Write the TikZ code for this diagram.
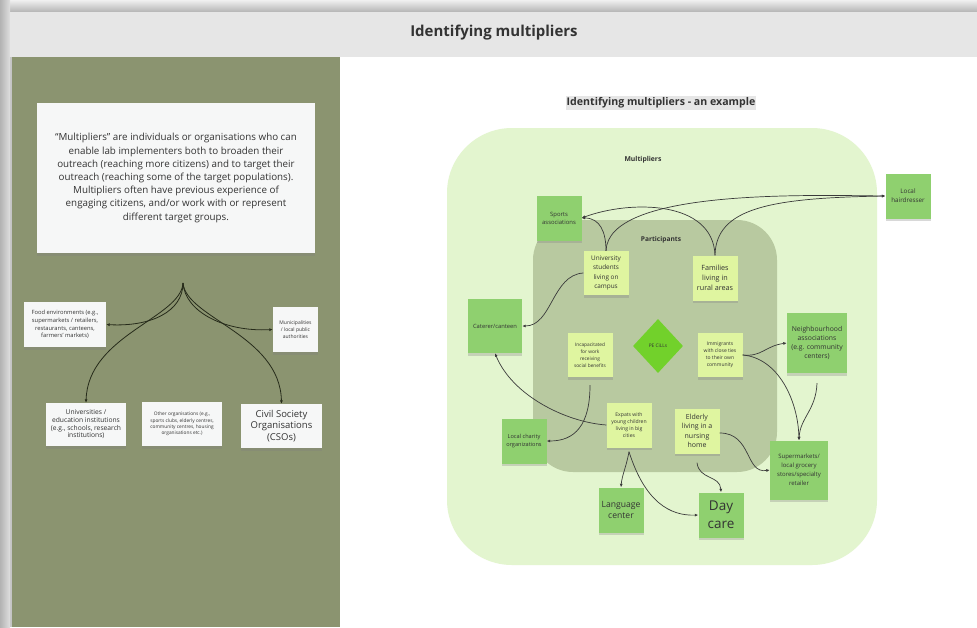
\documentclass[tikz,border=0pt]{standalone}
\usepackage{fontspec}
\setmainfont{Open Sans}
\usetikzlibrary{arrows.meta,shapes.geometric,shadows}
\definecolor{framegray}{HTML}{C4C4C4}
\definecolor{titlegray}{HTML}{E6E6E6}
\definecolor{paneloliv}{HTML}{8B9470}
\definecolor{multbg}{HTML}{E3F5CF}
\definecolor{partbg}{HTML}{B8C9A0}
\definecolor{multnote}{HTML}{8FD06F}
\definecolor{partnote}{HTML}{DFF5A0}
\definecolor{diamgreen}{HTML}{72D12B}
\definecolor{txtgray}{HTML}{333333}
\definecolor{linegray}{HTML}{3A3A3A}
\definecolor{leftline}{HTML}{262B1A}
\definecolor{paperwhite}{HTML}{F6F7F7}
\newcommand\myfs[2]{\fontsize{#1}{#2}\selectfont}
\tikzset{
  shad/.style={drop shadow={shadow xshift=0pt,shadow yshift=-2.5pt,opacity=0.3}},
  note/.style={rectangle, minimum width=45pt, minimum height=45pt, align=center, inner sep=1pt, text=txtgray, shad},
  mnote/.style={note, fill=multnote},
  pnote/.style={note, fill=partnote},
  paper/.style={rectangle, align=center, inner sep=1pt, text=txtgray, fill=paperwhite, shad},
  conn/.style={draw=linegray, line width=0.7pt, -{Latex[length=3.5pt,width=3pt]}},
  lconn/.style={draw=leftline, line width=0.8pt, -{Latex[length=3.5pt,width=3pt]}},
}
\begin{document}
\begin{tikzpicture}[x=1pt,y=-1pt]
\useasboundingbox (0,0) rectangle (977,627);
% frame
\fill[framegray] (0,0) rectangle (977,627);
\shade[top color=gray!12, bottom color=gray!55] (0,0) rectangle (977,11);
\shade[left color=gray!60, right color=gray!25] (0,0) rectangle (10,627);
\fill[titlegray] (10,12) rectangle (977,57);
\fill[paneloliv] (12,57) rectangle (340,627);
\fill[white] (340,57) rectangle (977,627);
\node[font=\bfseries\myfs{15}{17}, text=txtgray] (title) at (494,33) {Identifying multipliers};

% ---------- left panel ----------
\node[paper, minimum width=278pt, minimum height=150pt, font=\myfs{9.8}{13.2}] (desc) at (176,178)
 {“Multipliers” are individuals or organisations who can\\
  enable lab implementers both to broaden their\\
  outreach (reaching more citizens) and to target their\\
  outreach (reaching some of the target populations).\\
  Multipliers often have previous experience of\\
  engaging citizens, and/or work with or represent\\
  different target groups.};

\coordinate (fan) at (183,283);
\node[paper, minimum width=82pt, minimum height=45pt, font=\myfs{5.8}{7.6}] (food) at (65,324.5)
 {Food environments (e.g.,\\ supermarkets / retailers,\\ restaurants, canteens,\\ farmers’ markets)};
\node[paper, minimum width=45pt, minimum height=45pt, font=\myfs{5}{7.3}] (muni) at (295.5,329.5)
 {Municipalities\\ / local public\\ authorities};
\node[paper, minimum width=80pt, minimum height=43pt, font=\myfs{6.7}{7.7}] (univ) at (86,424.5)
 {Universities /\\ education institutions\\ (e.g., schools, research\\ institutions)};
\node[paper, minimum width=80pt, minimum height=44pt, font=\myfs{4.8}{6.4}] (other) at (182,424)
 {Other organisations (e.g.,\\ sports clubs, elderly centres,\\ community centres, housing\\ organisations etc.)};
\node[paper, minimum width=81pt, minimum height=44pt, font=\myfs{9.5}{11.3}] (cso) at (281.5,426)
 {Civil Society\\ Organisations\\ (CSOs)};

\draw[lconn] (fan) .. controls (183,312) and (150,327) .. (food.east);
\draw[lconn] (fan) .. controls (185,312) and (225,332) .. (muni.west);
\draw[lconn] (fan) .. controls (181,318) and (88,335) .. (univ.north);
\draw[lconn] (fan) .. controls (186,318) and (280,335) .. (cso.north);

% ---------- right panel ----------
\node[fill=titlegray, inner sep=1.2pt, font=\bfseries\myfs{10.6}{12}, text=txtgray] (subtitle) at (661,103)
 {Identifying multipliers - an example};

\fill[multbg, rounded corners=65pt] (447,128) rectangle (877,565);
\fill[partbg, rounded corners=40pt] (533,220) rectangle (777,472);
\node[font=\bfseries\myfs{6.8}{8}, text=txtgray] (multlabel) at (643,160) {Multipliers};
\node[font=\bfseries\myfs{6.6}{7.5}, text=txtgray] (partlabel) at (661,240) {Participants};

% multipliers
\node[mnote, font=\myfs{5.9}{8.2}] (sports) at (559,218) {Sports\\ associations};
\node[mnote, font=\myfs{6.3}{9}] (hair) at (908,196) {Local\\ hairdresser};
\node[mnote, minimum width=54pt, minimum height=54pt, font=\myfs{5.8}{7}] (cater) at (495,326) {Caterer/canteen};
\node[mnote, minimum width=60pt, minimum height=60pt, font=\myfs{6.8}{8.8}] (neigh) at (817,343)
 {Neighbourhood\\ associations\\ (e.g. community\\ centers)};
\node[mnote, minimum width=58pt, minimum height=59pt, font=\myfs{6}{9}] (super) at (799,470)
 {Supermarkets/\\ local grocery\\ stores/specialty\\ retailer};
\node[mnote, font=\myfs{5.6}{8}] (charity) at (524,441) {Local charity\\ organizations};
\node[mnote, font=\myfs{8.6}{11}] (lang) at (621,510) {Language\\ center};
\node[mnote, font=\myfs{13.5}{18}] (day) at (721,515) {Day\\ care};

% participants
\node[pnote, minimum height=44pt, font=\myfs{6.4}{9.2}] (stud) at (606,273) {University\\ students\\ living on\\ campus};
\node[pnote, font=\myfs{7.2}{10}] (fam) at (715,278) {Families\\ living in\\ rural areas};
\node[pnote, minimum height=44pt, font=\myfs{4.8}{7}] (incap) at (590,355) {Incapacitated\\ for work\\ receiving\\ social benefits};
\node[pnote, minimum height=44pt, font=\myfs{5}{7}] (immig) at (720,355) {Immigrants\\ with close ties\\ to their own\\ community};
\node[pnote, font=\myfs{5.1}{7.2}] (expat) at (629,425) {Expats with\\ young children\\ living in big\\ cities};
\node[pnote, font=\myfs{7}{9.4}] (elder) at (697,431) {Elderly\\ living in a\\ nursing\\ home};
\node[diamond, fill=diamgreen, minimum width=50pt, minimum height=54pt, inner sep=0pt, font=\myfs{4.8}{6}, text=txtgray] (pe) at (658,346) {PE CiLLs};

% connectors
\draw[conn] (stud.north) .. controls (606,232) and (600,218) .. (sports.east);
\draw[conn] (stud.north) .. controls (608,190) and (800,195) .. (hair.west);
\draw[conn] (fam.north) .. controls (713,200) and (630,200) .. (sports.east);
\draw[conn] (fam.north) .. controls (716,208) and (770,198) .. (hair.west);
\draw[conn] (stud.west) .. controls (552,275) and (552,326) .. (cater.east);
\draw[conn] (expat.west) .. controls (565,422) and (512,395) .. (cater.south);
\draw[conn] ([yshift=-8pt]incap.south) .. controls (590,425) and (575,441) .. (charity.east);
\draw[conn] (immig.east) .. controls (762,357) and (765,346) .. (neigh.west);
\draw[conn] (immig.east) .. controls (778,358) and (798,400) .. (super.north);
\draw[conn] ([yshift=-10pt]neigh.south) .. controls (816,410) and (800,418) .. (super.north);
\draw[conn] ([yshift=-2pt]elder.east) .. controls (752,433) and (745,474) .. (super.west);
\draw[conn] ([yshift=-9pt]elder.south) .. controls (699,480) and (720,475) .. (day.north);
\draw[conn] ([yshift=-4pt]expat.south) .. controls (626,468) and (622,475) .. (lang.north);
\draw[conn] ([yshift=-4pt]expat.south) .. controls (645,502) and (670,516) .. (day.west);
\end{tikzpicture}
\end{document}
